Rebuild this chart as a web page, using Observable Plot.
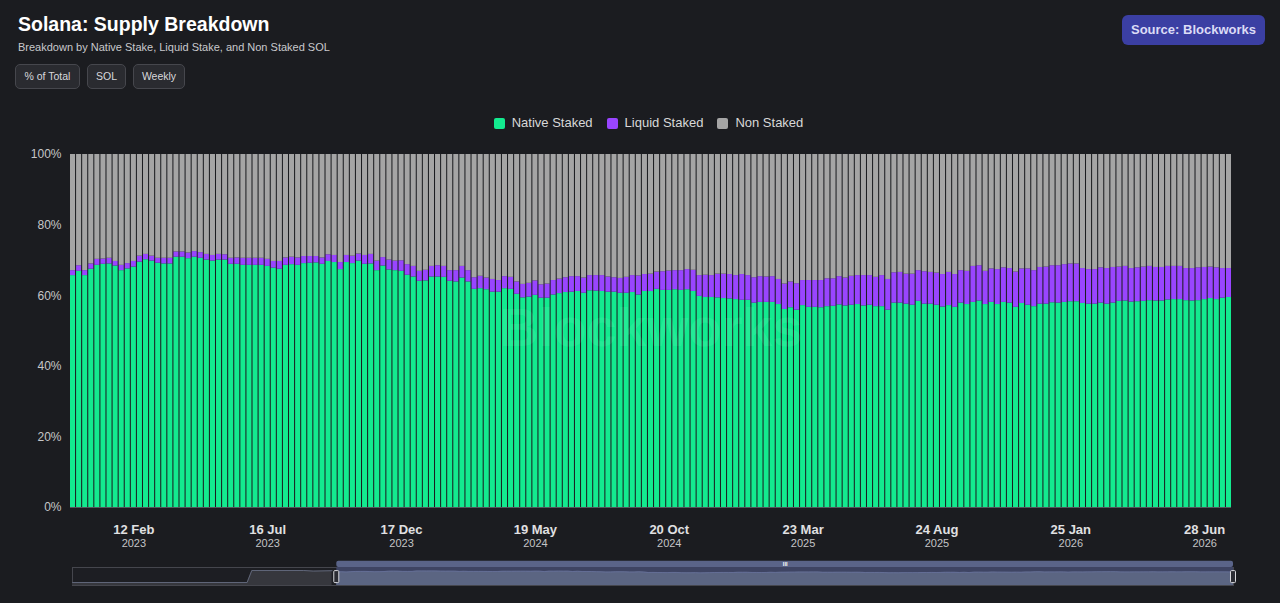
<!DOCTYPE html>
<html>
<head>
<meta charset="utf-8">
<script src="https://cdn.jsdelivr.net/npm/d3@7"></script>
<script src="https://cdn.jsdelivr.net/npm/@observablehq/plot@0.6"></script>
<style>
  body { margin: 0; background: #1b1c20; font-family: "Liberation Sans", Arial, sans-serif; }
  #wrap { position: relative; width: 1280px; height: 603px; overflow: hidden; background: #1b1c20; }
  .title { position: absolute; left: 18px; top: 13px; color: #ffffff; font-weight: bold; font-size: 19.5px; line-height: 22px; }
  .sub { position: absolute; left: 18px; top: 40px; color: #c9c9cd; font-size: 11px; line-height: 14px; }
  .btn { position: absolute; top: 64px; height: 25px; box-sizing: border-box; border: 1px solid #46474d; background: #2a2b30;
         border-radius: 5px; color: #d8d8dc; font-size: 10.5px; line-height: 23px; text-align: center; }
  .src { position: absolute; left: 1122px; top: 15px; width: 143px; height: 30px; background: #3b3fa3; border-radius: 6px;
         color: #dcdcf6; font-weight: bold; font-size: 13px; line-height: 30px; text-align: center; }
  .legend { position: absolute; left: 0; top: 115px; width: 1297px; display: flex; justify-content: center; gap: 14px;
            color: #d8d8d8; font-size: 13px; line-height: 16px; }
  .legend span.item { display: flex; align-items: center; gap: 7px; }
  .legend i { display: inline-block; width: 11px; height: 11px; border-radius: 2px; }
  #main { position: absolute; left: 0; top: 140px; }
  #nav { position: absolute; left: 0; top: 556px; }
</style>
</head>
<body>
<div id="wrap">
  <div class="title">Solana: Supply Breakdown</div>
  <div class="sub">Breakdown by Native Stake, Liquid Stake, and Non Staked SOL</div>
  <div class="btn" style="left:15px;width:65px">% of Total</div>
  <div class="btn" style="left:87px;width:39px">SOL</div>
  <div class="btn" style="left:133px;width:52px">Weekly</div>
  <div class="src">Source: Blockworks</div>
  <div class="legend" id="legend"></div>
  <div id="main"></div>
  <div id="nav"></div>
</div>
<script>
// ---- data (percent of total supply, weekly, first week 2022-12-04) ----
const seriesNames = ["Native Staked", "Liquid Staked", "Non Staked"];
const seriesColors = ["#13ea8f", "#9945ff", "#a5a5a5"];
const firstWeek = "2022-12-04";
const lastWeek = "2026-07-26";

const nativeStaked = [
  65.7,66.9,65.7,67.5,68.6,68.9,69.0,68.4,67.1,67.6,
  68.1,69.5,70.2,69.8,69.2,69.0,69.0,70.9,70.9,70.5,
  70.9,70.6,70.1,69.8,70.1,70.1,68.9,68.9,68.6,68.6,
  68.6,68.6,68.3,67.8,67.5,68.6,68.8,68.6,69.1,69.2,
  69.3,68.9,69.7,69.4,67.4,69.4,69.1,69.8,68.9,69.0,
  67.1,68.4,67.3,67.1,66.9,65.8,65.3,64.1,64.2,65.3,
  65.3,65.2,64.1,63.9,65.0,63.9,61.8,62.0,61.7,61.0,
  61.0,62.0,61.8,60.4,59.4,59.6,60.1,59.3,59.3,60.2,
  60.6,60.9,61.0,61.2,60.7,61.4,61.3,61.2,61.0,61.0,
  60.7,60.7,60.9,60.2,61.2,61.2,61.8,61.5,61.5,61.7,
  61.5,61.7,61.2,59.8,59.5,59.5,59.4,59.2,59.1,58.9,
  58.7,58.7,57.9,58.1,58.1,58.1,57.5,56.1,56.6,55.9,
  57.2,56.7,56.7,56.6,56.9,57.0,57.4,57.1,57.3,57.5,
  57.1,57.3,56.9,56.9,55.9,57.9,57.9,57.6,57.3,58.4,
  57.6,57.6,57.3,56.8,57.2,56.7,57.9,57.5,58.1,58.5,
  57.5,58.1,57.5,58.1,57.9,56.7,57.8,57.3,56.9,57.6,
  57.6,58.0,57.9,58.1,58.3,58.3,57.8,57.6,57.6,57.9,
  57.6,57.9,58.4,58.5,58.2,58.3,58.4,58.6,58.5,58.5,
  58.8,58.9,58.9,58.6,58.5,58.6,58.9,59.2,58.9,59.3,
  59.5
];
const liquidStaked = [
  1.4,1.6,1.4,1.5,1.7,1.5,1.6,1.3,1.5,1.5,
  1.6,1.7,1.5,1.4,1.4,1.6,1.6,1.5,1.5,1.6,
  1.6,1.6,1.6,1.6,1.6,1.5,1.7,1.8,2.0,2.0,
  2.0,2.0,2.0,1.9,2.2,2.1,2.1,2.1,2.0,1.9,
  1.8,1.8,1.9,2.0,2.0,2.0,2.1,2.0,2.5,2.7,
  2.7,2.4,2.8,2.7,3.0,3.0,3.0,2.8,3.0,3.0,
  3.2,3.1,3.0,3.2,3.3,3.2,3.3,3.5,3.3,3.6,
  3.3,3.4,3.4,3.5,3.8,3.9,4.1,3.8,4.0,4.1,
  4.1,4.2,4.4,4.2,4.3,4.3,4.4,4.5,4.3,4.1,
  4.2,4.5,4.8,5.4,4.8,4.9,4.9,5.3,5.5,5.4,
  5.6,5.7,6.0,5.9,6.3,6.2,6.7,6.9,6.9,6.8,
  7.3,7.0,7.2,7.3,7.2,7.3,7.1,7.2,7.3,7.5,
  7.1,7.6,7.6,7.7,7.9,7.8,8.0,7.9,8.2,8.2,
  8.6,8.4,8.3,8.8,8.7,8.6,8.7,8.5,8.8,8.7,
  9.2,9.0,9.1,9.2,9.4,9.3,9.2,9.4,10.2,10.0,
  9.4,9.5,9.9,9.8,9.8,10.0,9.8,10.3,10.2,10.4,
  10.5,10.5,10.6,10.7,10.7,10.7,9.9,9.8,9.8,10.0,
  10.1,10.1,9.7,9.8,9.5,9.6,9.7,9.7,9.5,9.5,
  9.5,9.4,9.4,9.1,9.2,9.3,9.1,8.9,9.0,8.4,
  8.2
];
const tickDates = ["2023-02-12","2023-07-16","2023-12-17","2024-05-19","2024-10-20",
                   "2025-03-23","2025-08-24","2026-01-25","2026-06-28"];

// navigator overview (earlier history before the shown window)
const overviewEarlyDates = ["2021-11-07","2022-07-24","2022-07-31","2022-10-16","2022-10-30","2022-11-27"];
const overviewEarlyValues = [15, 15, 75, 75, 72, 74];
const navStart = "2021-11-07";

// ---- build ----
const parse = d3.utcParse("%Y-%m-%d");
const weeks = d3.utcSunday.range(parse(firstWeek), d3.utcDay.offset(parse(lastWeek), 1));
const ticks = tickDates.map(parse);
const rows = weeks.flatMap((d, i) => [
  {date: d, series: seriesNames[0], value: nativeStaked[i]},
  {date: d, series: seriesNames[1], value: liquidStaked[i]},
  {date: d, series: seriesNames[2], value: +(100 - nativeStaked[i] - liquidStaked[i]).toFixed(1)}
]);

// legend
const lg = document.getElementById("legend");
seriesNames.forEach((s, i) => {
  const it = document.createElement("span");
  it.className = "item";
  it.innerHTML = `<i style="background:${seriesColors[i]}"></i>${s}`;
  lg.appendChild(it);
});

const font = '"Liberation Sans", Arial, sans-serif';
const main = Plot.plot({
  width: 1280, height: 410,
  marginLeft: 70, marginRight: 49, marginTop: 14, marginBottom: 43,
  style: {background: "transparent", fontFamily: font, color: "#c8c8c8"},
  x: {type: "band", domain: weeks, paddingInner: 0.17, paddingOuter: 0, round: false},
  y: {domain: [0, 100]},
  color: {domain: seriesNames, range: seriesColors},
  marks: [
    Plot.barY(rows, {x: "date", y: "value", fill: "series", order: seriesNames}),
    Plot.text(["Blockworks"], {frameAnchor: "middle", dy: -2, fontSize: 54, fontWeight: "bold", fill: "#ffffff", fillOpacity: 0.07}),
    Plot.ruleY([0], {stroke: "#56575d", strokeWidth: 1.2}),
    Plot.axisY({ticks: [0, 20, 40, 60, 80, 100], tickFormat: d => d + "%", tickSize: 0, tickPadding: 9,
                fontSize: 12, fill: "#c6c6c8", label: null}),
    Plot.axisX({ticks, tickFormat: d3.utcFormat("%-d %b"), tickSize: 0, tickPadding: 17,
                fontSize: 13, fontWeight: "bold", fill: "#e0e0e2", label: null}),
    Plot.axisX({ticks, tickFormat: d3.utcFormat("%Y"), tickSize: 0, tickPadding: 32,
                fontSize: 11, fill: "#c4c4c6", label: null})
  ]
});
document.getElementById("main").appendChild(main);

// navigator
const early = overviewEarlyDates.map((d, i) => ({date: parse(d), v: overviewEarlyValues[i]}));
const sel = weeks.map((d, i) => ({date: d, v: nativeStaked[i] + liquidStaked[i]}));
const w0 = weeks[0], w1 = weeks[weeks.length - 1];
const mid = new Date((+w0 + +w1) / 2);
const nav = Plot.plot({
  width: 1280, height: 32,
  marginLeft: 72, marginRight: 47, marginTop: 11, marginBottom: 3,
  style: {background: "transparent", fontFamily: font},
  x: {type: "utc", domain: [parse(navStart), w1], axis: null},
  y: {domain: [0, 90], axis: null},
  marks: [
    Plot.frame({fill: "#1d1e23", stroke: "#45464d"}),
    Plot.areaY(early, {x: "date", y: "v", fill: "#36373d"}),
    Plot.lineY(early, {x: "date", y: "v", stroke: "#5f6578", strokeWidth: 1}),
    Plot.rectY([0], {x1: w0, x2: w1, y1: 0, y2: 90, fill: "#3e4463"}),
    Plot.areaY(sel, {x: "date", y: "v", fill: "#5b6582"}),
    Plot.lineY(sel, {x: "date", y: "v", stroke: "#66709a", strokeWidth: 0.8}),
    Plot.rectY([0], {x1: w0, x2: w1, y1: 90, y2: 121, fill: "#5a6489", rx: 2}),
    Plot.text(["III"], {x: mid, y: 105, fontSize: 5.5, fontWeight: "bold", fill: "#ffffff"}),
    Plot.rectY([w0, w1], {x1: d => d, x2: d => d, y1: 12, y2: 72, insetLeft: -2.5, insetRight: -2.5,
                          fill: "#2b2c33", stroke: "#d8d8dc", strokeWidth: 1, rx: 1})
  ]
});
document.getElementById("nav").appendChild(nav);
</script>
</body>
</html>
